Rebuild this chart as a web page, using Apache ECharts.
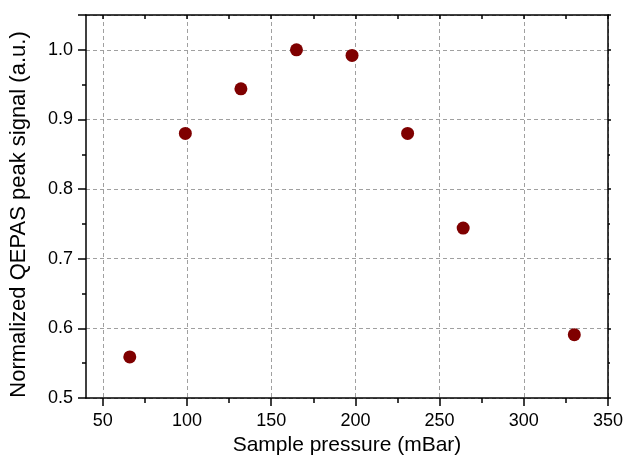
<!DOCTYPE html>
<html>
<head>
<meta charset="utf-8">
<script src="https://cdn.jsdelivr.net/npm/echarts@6/dist/echarts.min.js"></script>
<style>html,body{margin:0;padding:0;background:#fff}#c{width:626px;height:461px}</style>
</head>
<body>
<div id="c"></div>
<script>
const pressure = [66, 99, 132, 165, 198, 231, 264, 330];
const signal = [0.559, 0.880, 0.944, 1.000, 0.992, 0.880, 0.744, 0.591];
const xTicks = [50, 100, 150, 200, 250, 300, 350];
const xMinorTicks = [75, 125, 175, 225, 275, 325];
const xTitle = 'Sample pressure (mBar)';
const yTitle = 'Normalized QEPAS peak signal (a.u.)';

const font = 'Liberation Sans, Arial, sans-serif';
const chart = echarts.init(document.getElementById('c'), null, {renderer: 'canvas'});
const axLine = {show: true, onZero: false, lineStyle: {color: '#000', width: 1.5}};
const tickStyle = {color: '#000', width: 1.5};
chart.setOption({
  animation: false,
  backgroundColor: '#fff',
  grid: {left: 82, right: 17, top: 15, bottom: 60, containLabel: false},
  xAxis: [{
    type: 'value', min: 40, max: 350, position: 'bottom',
    name: xTitle, nameLocation: 'middle', nameGap: 37,
    nameTextStyle: {fontFamily: font, fontSize: 21, color: '#000'},
    axisLine: axLine,
    axisTick: {show: true, inside: false, length: 8, lineStyle: tickStyle, customValues: xTicks},
    axisLabel: {fontFamily: font, fontSize: 18, color: '#000', margin: 14, customValues: xTicks},
    splitLine: {show: true, lineStyle: {color: '#a0a0a0', type: [4, 3], width: 1}}
  }, {
    type: 'value', min: 40, max: 350, position: 'bottom',
    axisLine: {show: false},
    axisTick: {show: true, inside: false, length: 5, lineStyle: tickStyle, customValues: xMinorTicks},
    axisLabel: {show: false}, splitLine: {show: false}
  }, {
    type: 'value', min: 40, max: 350, position: 'top',
    axisLine: axLine,
    axisTick: {show: true, inside: true, length: 4, lineStyle: tickStyle, customValues: xTicks.concat(xMinorTicks)},
    axisLabel: {show: false}, splitLine: {show: false}
  }],
  yAxis: [{
    type: 'value', min: 0.5, max: 1.05, interval: 0.1, position: 'left',
    name: yTitle, nameLocation: 'middle', nameGap: 56, nameRotate: 90,
    nameTextStyle: {fontFamily: font, fontSize: 22, color: '#000', padding: [0, 16, 0, 0]},
    axisLine: axLine,
    axisTick: {show: true, inside: false, length: 8, lineStyle: tickStyle},
    minorTick: {show: true, splitNumber: 2, length: 4, lineStyle: tickStyle},
    axisLabel: {fontFamily: font, fontSize: 18, color: '#000', margin: 13,
      formatter: v => (Math.abs(v * 10 - Math.round(v * 10)) < 1e-6 ? v.toFixed(1) : '')},
    splitLine: {show: true, lineStyle: {color: '#a0a0a0', type: [4, 3], width: 1}}
  }, {
    type: 'value', min: 0.5, max: 1.05, interval: 0.1, position: 'right',
    axisLine: axLine,
    axisTick: {show: true, inside: false, length: 3, lineStyle: tickStyle},
    minorTick: {show: true, splitNumber: 2, length: 2, lineStyle: tickStyle},
    axisLabel: {show: false}, splitLine: {show: false}
  }],
  series: [{
    type: 'scatter',
    xAxisIndex: 0, yAxisIndex: 0,
    data: pressure.map((p, i) => [p, signal[i]]),
    symbol: 'circle', symbolSize: 13,
    itemStyle: {color: '#7f0000', opacity: 1}
  }]
});
</script>
</body>
</html>
